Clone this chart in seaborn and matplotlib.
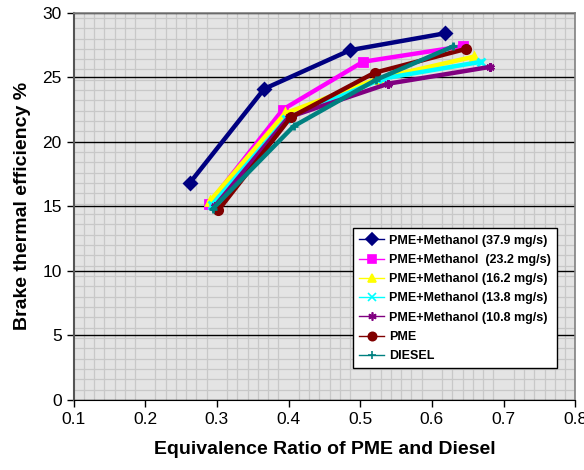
import pandas as pd
import seaborn as sns
import matplotlib.pyplot as plt
from matplotlib.ticker import MultipleLocator

# datos
series = ["PME+Methanol (37.9 mg/s)", "PME+Methanol  (23.2 mg/s)", "PME+Methanol (16.2 mg/s)",
          "PME+Methanol (13.8 mg/s)", "PME+Methanol (10.8 mg/s)", "PME", "DIESEL"]
x_379 = [0.262, 0.366, 0.486, 0.618]
y_379 = [16.8, 24.1, 27.1, 28.4]
x_232 = [0.289, 0.392, 0.504, 0.643]
y_232 = [15.2, 22.5, 26.2, 27.4]
x_162 = [0.290, 0.395, 0.525, 0.659]
y_162 = [15.4, 22.2, 24.9, 26.6]
x_138 = [0.293, 0.397, 0.532, 0.669]
y_138 = [15.1, 21.8, 24.9, 26.2]
x_108 = [0.297, 0.400, 0.539, 0.681]
y_108 = [15.0, 21.9, 24.5, 25.8]
x_pme = [0.302, 0.403, 0.520, 0.648]
y_pme = [14.7, 21.9, 25.35, 27.2]
x_die = [0.294, 0.407, 0.522, 0.630]
y_die = [14.8, 21.2, 24.8, 27.4]

xs = [x_379, x_232, x_162, x_138, x_108, x_pme, x_die]
ys = [y_379, y_232, y_162, y_138, y_108, y_pme, y_die]
rows = []
for s, xx, yy in zip(series, xs, ys):
    for a, b in zip(xx, yy):
        rows.append({"serie": s, "phi": a, "bte": b})
df = pd.DataFrame(rows)

colores = ["#000080", "#FF00FF", "#FFFF00", "#00FFFF", "#800080", "#800000", "#008080"]
marcadores = ["D", "s", "^", "x", (6, 2, 0), "o", "+"]

plt.rcParams["font.family"] = ["Liberation Sans", "DejaVu Sans"]
fig = plt.figure(figsize=(5.84, 4.70), dpi=100)
ax = fig.add_axes([0.126, 0.149, 0.859, 0.824])
ax.set_facecolor("#e4e4e4")

# una llamada por serie (marcadores rellenos y de linea no se pueden mezclar)
for s, c, m in zip(series, colores, marcadores):
    sub = df[df["serie"] == s]
    sns.lineplot(data=sub, x="phi", y="bte", color=c, marker=m, sort=False, lw=3.2,
                 markersize=6, markeredgewidth=2, markeredgecolor=c, ax=ax, legend=False)
for ln in ax.lines:
    ln.set_linewidth(3.2)

ax.set_xlim(0.1, 0.8)
ax.set_ylim(0, 30)
ax.xaxis.set_major_locator(MultipleLocator(0.1))
ax.yaxis.set_major_locator(MultipleLocator(5))
ax.xaxis.set_minor_locator(MultipleLocator(0.1 / 7))
ax.yaxis.set_minor_locator(MultipleLocator(0.8))
ax.grid(which="minor", color="#c8c8c8", linewidth=0.9)
ax.grid(which="major", axis="y", color="black", linewidth=1)
ax.set_axisbelow(True)
ax.tick_params(which="minor", length=0)
ax.tick_params(which="major", direction="out", length=5, width=1, labelsize=12.5, colors="black")
ax.set_xticks([0.1, 0.2, 0.3, 0.4, 0.5, 0.6, 0.7, 0.8])
ax.set_xticklabels(["0.1", "0.2", "0.3", "0.4", "0.5", "0.6", "0.7", "0.8"])
for lado in ["top", "right"]:
    ax.spines[lado].set_color("#808080")
    ax.spines[lado].set_linewidth(1.2)
ax.spines["left"].set_color("#555555")
ax.spines["left"].set_linewidth(1.5)
ax.spines["bottom"].set_color("black")

ax.set_xlabel("Equivalence Ratio of PME and Diesel", fontsize=14, fontweight="bold", labelpad=10)
ax.set_ylabel("Brake thermal efficiency %", fontsize=14, fontweight="bold", labelpad=8)

handles = []
for s, c, m in zip(series, colores, marcadores):
    h, = ax.plot([], [], color=c, marker=m, linewidth=1, markersize=6, markeredgewidth=1.2,
                 markeredgecolor=c, label=s)
    handles.append(h)
leg = ax.legend(handles=handles, loc="upper left", bbox_to_anchor=(0.557, 0.443),
                prop={"size": 9, "weight": "bold"}, frameon=True, fancybox=False,
                handlelength=2.0, handletextpad=0.4, labelspacing=0.58, borderpad=0.5,
                borderaxespad=0)
leg.get_frame().set_edgecolor("black")
leg.get_frame().set_facecolor("white")
leg.get_frame().set_alpha(1)

plt.savefig("out.png", dpi=100)
